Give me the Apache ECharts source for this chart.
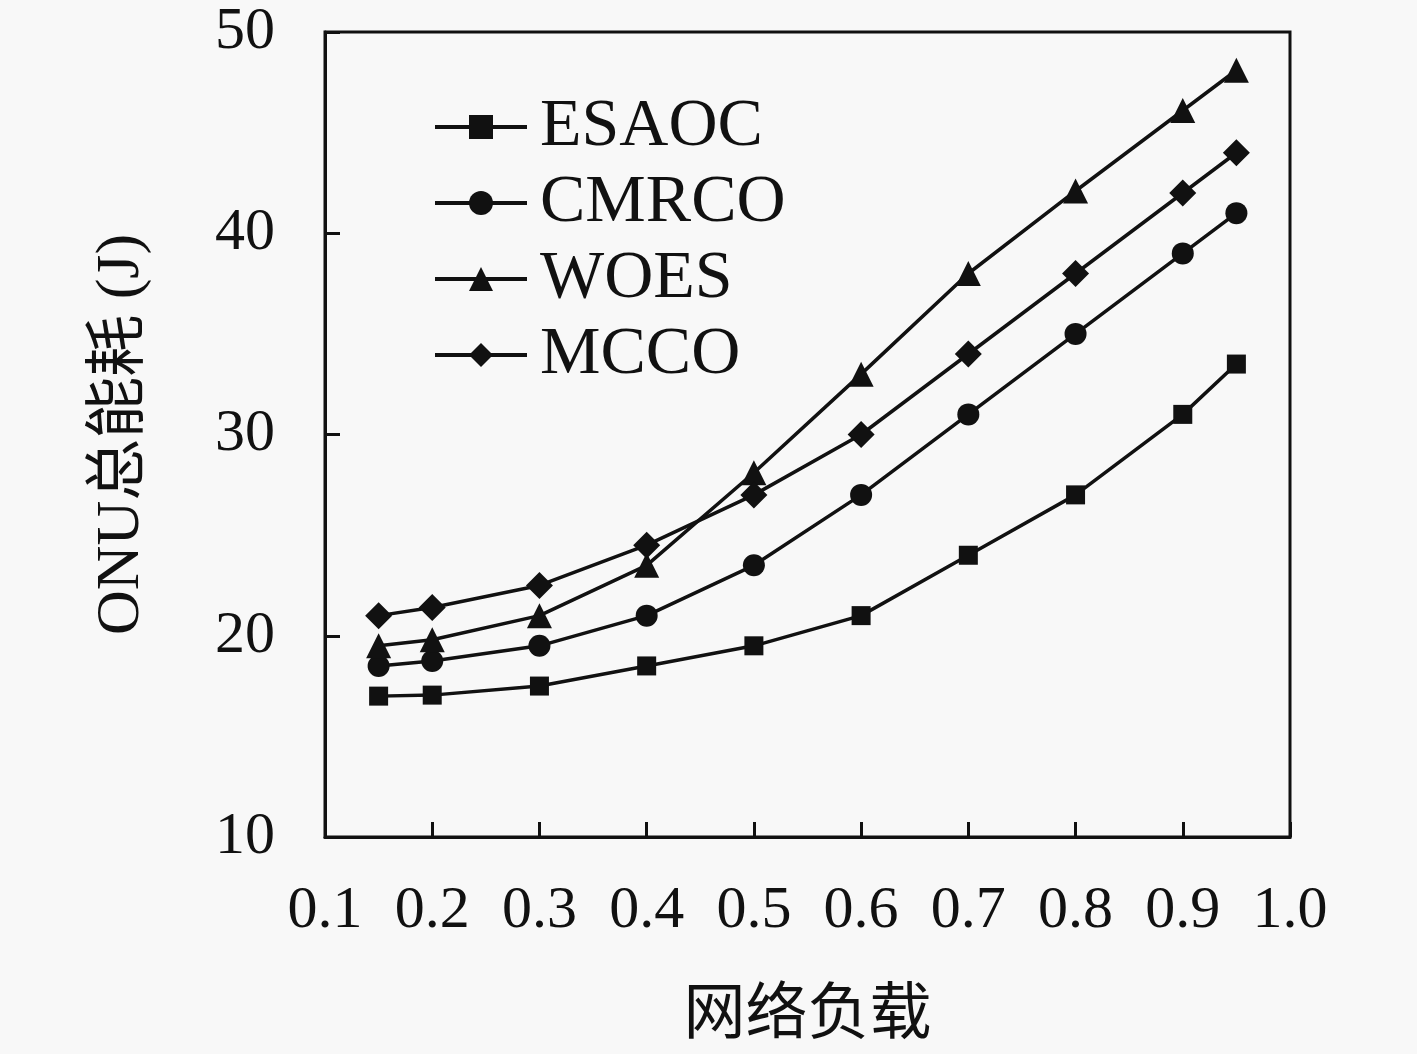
<!DOCTYPE html>
<html>
<head>
<meta charset="utf-8">
<script src="https://cdn.jsdelivr.net/npm/echarts@6/dist/echarts.min.js"></script>
<style>
  html, body { margin: 0; padding: 0; background: #f8f8f8; }
  #container { width: 1417px; height: 1054px; }
</style>
</head>
<body>
<div id="container"></div>
<script>
// 网络负载
var loads = [0.15, 0.2, 0.3, 0.4, 0.5, 0.6, 0.7, 0.8, 0.9, 0.95];
var esaoc = [17.0, 17.05, 17.5, 18.5, 19.5, 21.0, 24.0, 27.0, 31.0, 33.5];
var cmrco = [18.5, 18.75, 19.5, 21.0, 23.5, 27.0, 31.0, 35.0, 39.0, 41.0];
var woes = [19.5, 19.8, 21.0, 23.5, 28.1, 33.0, 38.0, 42.1, 46.1, 48.1];
var mcco = [21.0, 21.4, 22.5, 24.5, 27.0, 30.0, 34.0, 38.0, 42.0, 44.0];

function pairs(ys) {
  return loads.map(function (x, i) { return [x, ys[i]]; });
}

function line(name, ys, symbol, size) {
  return {
    name: name,
    type: 'line',
    data: pairs(ys),
    symbol: symbol,
    symbolSize: size,
    lineStyle: { color: '#111', width: 3.5 },
    itemStyle: { color: '#111' }
  };
}

var dom = document.getElementById("container");
var myChart = echarts.init(dom);
var font = '"Liberation Serif", "DejaVu Serif", "Noto Sans CJK SC", serif';
var option = {
  backgroundColor: '#f8f8f8',
  animation: false,
  textStyle: { fontFamily: font, color: '#111' },
  grid: {
    left: 325,
    right: 127,
    top: 32,
    bottom: 217,
    outerBoundsMode: 'none',
    show: true,
    borderColor: '#111',
    borderWidth: 3,
    backgroundColor: 'transparent'
  },
  legend: {
    left: 428,
    top: 88,
    orient: 'vertical',
    itemWidth: 92,
    itemHeight: 30,
    itemGap: 8,
    lineStyle: { width: 4 },
    textStyle: { fontFamily: font, fontSize: 68, color: '#111', padding: [0, 0, 0, 8] },
    data: ['ESAOC', 'CMRCO', 'WOES', 'MCCO']
  },
  xAxis: {
    type: 'value',
    min: 0.1,
    max: 1.0,
    interval: 0.1,
    name: '网络负载',
    nameLocation: 'middle',
    nameGap: 150,
    nameTextStyle: { fontFamily: font, fontSize: 62, color: '#111' },
    axisLine: { lineStyle: { color: '#111', width: 3 } },
    axisTick: { inside: true, length: 15, lineStyle: { color: '#111', width: 3 } },
    axisLabel: {
      margin: 44,
      fontSize: 60,
      color: '#111',
      fontFamily: font,
      formatter: function (v) { return v.toFixed(1); }
    },
    splitLine: { show: false }
  },
  yAxis: {
    type: 'value',
    min: 10,
    max: 50,
    interval: 10,
    name: 'ONU总能耗 (J)',
    nameLocation: 'middle',
    nameGap: 172,
    nameTextStyle: { fontFamily: font, fontSize: 62, color: '#111' },
    axisLine: { lineStyle: { color: '#111', width: 3 } },
    axisTick: { inside: true, length: 15, lineStyle: { color: '#111', width: 3 } },
    axisLabel: { margin: 50, fontSize: 60, color: '#111', fontFamily: font, padding: [16, 0, 0, 0] },
    splitLine: { show: false }
  },
  series: [
    line('ESAOC', esaoc, 'rect', 19),
    line('CMRCO', cmrco, 'circle', 22),
    line('WOES', woes, 'triangle', 25),
    line('MCCO', mcco, 'diamond', 27)
  ]
};
if (option && typeof option === "object") {
  myChart.setOption(option, true);
}
window.addEventListener("resize", () => {
  myChart.resize();
});
</script>
</body>
</html>
